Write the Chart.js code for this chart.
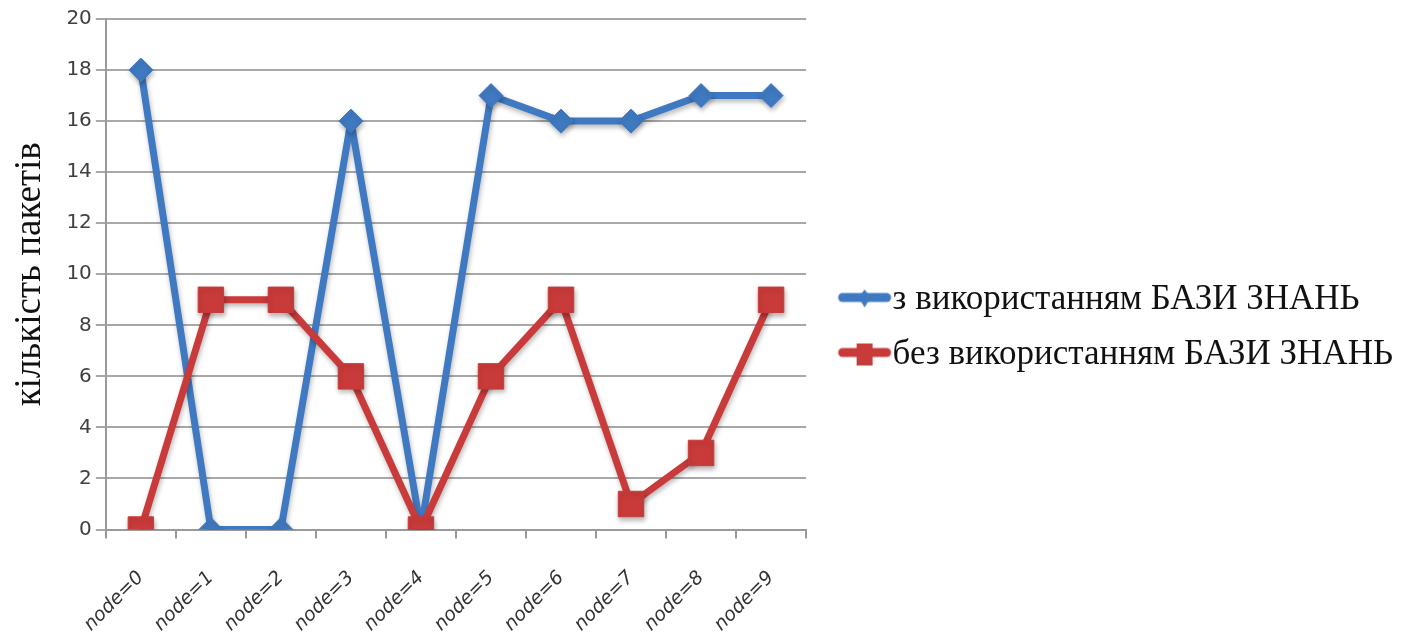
<!DOCTYPE html>
<html>
<head>
<meta charset="utf-8">
<script src="https://cdn.jsdelivr.net/npm/chart.js@4/dist/chart.umd.min.js"></script>
<style>
  html, body { margin: 0; padding: 0; background: #fff; }
  #wrap { width: 1404px; height: 641px; position: relative; }
</style>
</head>
<body>
<div id="wrap"><canvas id="c"></canvas></div>
<script>
const categories = ['node=0','node=1','node=2','node=3','node=4','node=5','node=6','node=7','node=8','node=9'];
const withKB = [18, 0, 0, 16, 0, 17, 16, 16, 17, 17];
const withoutKB = [0, 9, 9, 6, 0, 6, 9, 1, 3, 9];
const seriesNames = ['з використанням БАЗИ ЗНАНЬ', 'без використанням БАЗИ ЗНАНЬ'];
const yTitle = 'кількість пакетів';

const BLUE = '#3F79C1';
const RED = '#C93B3A';

function legendIcon(color, shape) {
  const c = document.createElement('canvas');
  c.width = 88; c.height = 28;
  const g = c.getContext('2d');
  const ox = 31;
  g.strokeStyle = color; g.lineWidth = 9; g.lineCap = 'round';
  g.beginPath(); g.moveTo(ox + 5, 12); g.lineTo(ox + 49, 12); g.stroke();
  g.fillStyle = color;
  g.beginPath();
  if (shape === 'diamond') {
    g.moveTo(ox + 27, 4); g.lineTo(ox + 33, 12); g.lineTo(ox + 27, 22); g.lineTo(ox + 21, 12);
  } else {
    g.rect(ox + 19, 3, 16, 22);
  }
  g.closePath(); g.fill();
  return c;
}
const icons = [legendIcon(BLUE, 'diamond'), legendIcon(RED, 'square')];

const shadowPlugin = {
  id: 'shadow',
  beforeDatasetsDraw(chart) {
    const ctx = chart.ctx;
    ctx.save();
    ctx.shadowColor = 'rgba(0,0,0,0.28)';
    ctx.shadowBlur = 5;
    ctx.shadowOffsetX = 1;
    ctx.shadowOffsetY = 3;
  },
  afterDatasetsDraw(chart) { chart.ctx.restore(); }
};

const legendNudge = {
  id: 'legendNudge',
  afterLayout(chart) {
    const lg = chart.legend;
    if (lg) { lg.top -= 9; lg.bottom -= 9; }
  }
};

new Chart(document.getElementById('c'), {
  type: 'line',
  data: {
    labels: categories,
    datasets: [
      {
        label: seriesNames[0], data: withKB,
        borderColor: BLUE, backgroundColor: BLUE,
        borderWidth: 7, borderJoinStyle: 'round', pointStyle: 'rectRot', pointRadius: 12,
        pointBackgroundColor: BLUE, pointBorderColor: BLUE, pointBorderWidth: 1,
        tension: 0, order: 2
      },
      {
        label: seriesNames[1], data: withoutKB,
        borderColor: RED, backgroundColor: RED,
        borderWidth: 7, borderJoinStyle: 'round', pointStyle: 'rect', pointRadius: 18,
        pointBackgroundColor: RED, pointBorderColor: RED, pointBorderWidth: 1,
        tension: 0, order: 1
      }
    ]
  },
  options: {
    responsive: true,
    maintainAspectRatio: false,
    animation: false,
    layout: { padding: { top: 8, right: 1, left: 8, bottom: -23 } },
    plugins: {
      tooltip: { enabled: false },
      legend: {
        position: 'right',
        align: 'center',
        maxWidth: 700,
        labels: {
          font: { family: 'Liberation Serif', size: 35 },
          color: '#111',
          usePointStyle: true,
          pointStyleWidth: 49,
          padding: 20,
          generateLabels(chart) {
            return chart.data.datasets.map((ds, i) => ({
              text: ds.label,
              pointStyle: icons[i],
              fillStyle: ds.borderColor,
              strokeStyle: ds.borderColor,
              lineWidth: 0,
              hidden: false,
              datasetIndex: i,
              fontColor: '#111'
            }));
          }
        }
      }
    },
    scales: {
      x: {
        offset: true,
        grid: { display: true, offset: true, drawOnChartArea: false, drawTicks: true, tickLength: 9, color: '#9a9a9a', lineWidth: 2 },
        border: { display: true, color: '#9a9a9a', width: 2 },
        ticks: {
          font: { family: 'DejaVu Sans', size: 19, style: 'italic' },
          color: '#333', minRotation: 45, maxRotation: 45, padding: 28
        }
      },
      y: {
        min: 0, max: 20,
        ticks: { stepSize: 2, font: { family: 'DejaVu Sans', size: 20 }, color: '#404040', padding: 4 },
        grid: { color: '#a8a8a8', lineWidth: 2, tickLength: 10 },
        border: { display: true, color: '#9a9a9a', width: 2 },
        title: { display: true, text: yTitle, font: { family: 'Liberation Serif', size: 37 }, color: '#111', padding: { top: 0, bottom: 10 } }
      }
    }
  },
  plugins: [shadowPlugin, legendNudge]
});
</script>
</body>
</html>
